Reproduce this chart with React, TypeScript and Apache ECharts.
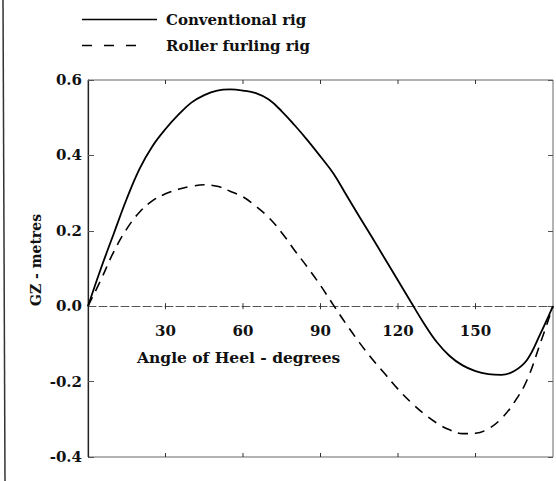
import React, { useEffect, useRef } from "react";
import * as echarts from "echarts";

const angles = [0,5,10,15,20,25,30,35,40,45,50,55,60,65,70,75,80,85,90,95,100,105,110,115,120,125,130,135,140,145,150,155,160,165,170,175,180];
const conventional = [0,0.10,0.193,0.285,0.365,0.425,0.47,0.508,0.54,0.56,0.572,0.575,0.572,0.565,0.548,0.517,0.48,0.44,0.397,0.352,0.295,0.238,0.182,0.125,0.068,0.011,-0.045,-0.095,-0.132,-0.157,-0.172,-0.18,-0.182,-0.172,-0.142,-0.075,0];
const rollerFurling = [0,0.07,0.145,0.205,0.25,0.28,0.298,0.31,0.318,0.322,0.318,0.305,0.29,0.265,0.235,0.195,0.148,0.103,0.055,0.003,-0.048,-0.096,-0.14,-0.18,-0.22,-0.255,-0.285,-0.31,-0.328,-0.338,-0.337,-0.325,-0.298,-0.255,-0.195,-0.1,0];
const frameTicks = [30, 60, 90, 120, 150];
const seriesNames = ["Conventional rig", "Roller furling rig"];
const xTitle = "Angle of Heel - degrees";
const yTitle = "GZ - metres";

const FONT = "'DejaVu Serif', 'Liberation Serif', serif";

export default function App() {
  const ref = useRef<HTMLDivElement>(null);
  useEffect(() => {
    if (!ref.current) return;
    const chart = echarts.init(ref.current, null, { renderer: "svg" });
    const baseX = { type: "value" as const, min: 0, max: 180, interval: 30, splitLine: { show: false } };
    const yBase = { type: "value" as const, min: -0.4, max: 0.6, interval: 0.2, splitLine: { show: false } };
    chart.setOption({
      animation: false,
      backgroundColor: "#fff",
      grid: {
        left: 88, right: 1, top: 80, bottom: 24,
        show: true, borderColor: "#666", borderWidth: 1,
      },
      xAxis: [
        {
          ...baseX,
          position: "bottom",
          axisLine: { show: true, onZero: true, lineStyle: { color: "#555", width: 1, type: [8, 3] } },
          axisTick: { show: false },
          axisLabel: {
            margin: -134,
            fontFamily: FONT, fontWeight: "bold", fontSize: 15, color: "#111",
            formatter: (v: number) => (v === 0 || v === 180 ? "" : String(v)),
          },
        },
      ],
      yAxis: [
        {
          ...yBase,
          position: "left",
          axisLine: { show: true, onZero: false, lineStyle: { color: "#222", width: 1.2 } },
          axisTick: { show: true, inside: true, length: 6, lineStyle: { color: "#555" } },
          axisLabel: {
            margin: 6,
            fontFamily: FONT, fontWeight: "bold", fontSize: 15, color: "#111",
            formatter: (v: number) => v.toFixed(1),
          },
        },
        {
          ...yBase,
          position: "right",
          axisLine: { show: false, onZero: false },
          axisTick: { show: true, inside: true, length: 5, lineStyle: { color: "#555" } },
          axisLabel: { show: false },
        },
      ],
      series: [
        {
          name: seriesNames[0],
          type: "line",
          data: angles.map((a, i) => [a, conventional[i]]),
          showSymbol: false,
          symbol: "none",
          smooth: 0.4,
          lineStyle: { color: "#000", width: 1.8, type: "solid" },
        },
        {
          name: seriesNames[1],
          type: "line",
          data: angles.map((a, i) => [a, rollerFurling[i]]),
          showSymbol: false,
          symbol: "none",
          smooth: 0.4,
          lineStyle: { color: "#000", width: 1.6, type: [10, 7] },
        },
        {
          name: "frameTicks",
          type: "custom",
          silent: true,
          data: frameTicks.map((t) => [t]),
          renderItem: (_params: any, api: any) => {
            const x = api.value(0);
            const top = api.coord([x, 0.6]);
            const bot = api.coord([x, -0.4]);
            const zero = api.coord([x, 0]);
            const st = { stroke: "#333", lineWidth: 1 };
            return {
              type: "group",
              children: [
                { type: "line", shape: { x1: top[0], y1: top[1], x2: top[0], y2: top[1] + 4 }, style: st },
                { type: "line", shape: { x1: bot[0], y1: bot[1], x2: bot[0], y2: bot[1] - 4 }, style: st },
                { type: "line", shape: { x1: zero[0], y1: zero[1] - 3, x2: zero[0], y2: zero[1] + 3 }, style: st },
              ],
            };
          },
        },
      ],
      graphic: [
        { type: "line", shape: { x1: 82, y1: 19.5, x2: 157, y2: 19.5 }, style: { stroke: "#000", lineWidth: 1.4 } },
        {
          type: "text", left: 166, top: 12,
          style: { text: seriesNames[0], fontFamily: FONT, fontWeight: "bold", fontSize: 15, fill: "#111" },
        },
        { type: "line", shape: { x1: 82, y1: 45.5, x2: 147, y2: 45.5 }, style: { stroke: "#000", lineWidth: 1.4, lineDash: [10, 12] } },
        {
          type: "text", left: 166, top: 38,
          style: { text: seriesNames[1], fontFamily: FONT, fontWeight: "bold", fontSize: 15, fill: "#111" },
        },
        {
          type: "text", left: 137, top: 349,
          style: { text: xTitle, fontFamily: FONT, fontWeight: "bold", fontSize: 15.5, fill: "#111" },
        },
        {
          type: "text", x: 36, y: 260, rotation: Math.PI / 2,
          style: {
            text: yTitle, fontFamily: FONT, fontWeight: "bold", fontSize: 14, fill: "#111",
            align: "center", verticalAlign: "middle",
          },
        },
        { type: "line", shape: { x1: 3, y1: 0, x2: 5, y2: 481 }, style: { stroke: "#333", lineWidth: 1.5 } },
      ],
    });
    return () => chart.dispose();
  }, []);
  return (
    <div
      ref={ref}
      style={{ position: "fixed", left: 0, top: 0, width: 556, height: 481, background: "#fff" }}
    />
  );
}
